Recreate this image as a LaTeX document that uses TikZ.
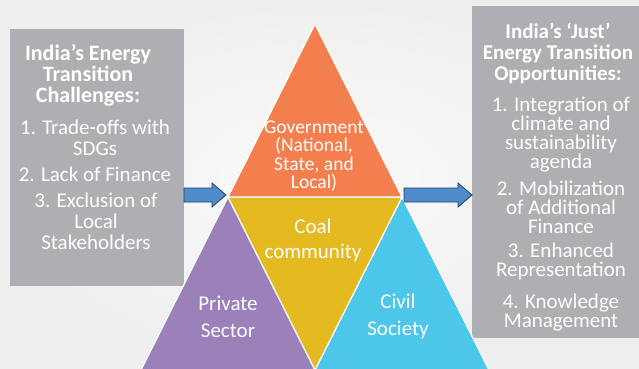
\documentclass[tikz,border=0pt]{standalone}
\usepackage{fontspec}
\setmainfont{Carlito}
\definecolor{bgA}{HTML}{EFEFEF}
\definecolor{bgB}{HTML}{FAFAFA}
\definecolor{boxgray}{HTML}{AEAFB3}
\definecolor{orangeT}{HTML}{F47F4E}
\definecolor{yellowT}{HTML}{E5B920}
\definecolor{purpleT}{HTML}{9B80B9}
\definecolor{cyanT}{HTML}{4CC7EA}
\definecolor{arrowfill}{HTML}{4F8CCA}
\definecolor{arrowline}{HTML}{22406A}
\begin{document}
\begin{tikzpicture}[x=1pt,y=1pt,
  graybox/.style={fill=boxgray,draw=none},
  tri/.style={draw=white,line width=1.2pt,line join=miter},
  bigarrow/.style={fill=arrowfill,draw=arrowline,line width=0.8pt,line join=miter},
  boxtitle/.style={text=white,align=center,font=\fontsize{22}{20.8}\selectfont\bfseries,inner sep=0pt},
  boxitem/.style={text=white,align=center,font=\fontsize{21}{21}\selectfont,inner sep=0pt},
  rtitle/.style={text=white,align=center,anchor=base,font=\fontsize{21}{21}\selectfont\bfseries,inner sep=0pt},
  ritem/.style={text=white,align=center,anchor=base,font=\fontsize{21}{19}\selectfont,inner sep=0pt},
  trilabel/.style={text=white,align=center,inner sep=0pt}]
\useasboundingbox (0,0) rectangle (639,368);
\shade[inner color=bgB,outer color=bgA] (0,0) rectangle (639,368);
\begin{scope}
\clip (0,0) rectangle (639,368);
% boxes
\path[graybox] (10,82) rectangle (184,339);
\path[graybox] (472,30) rectangle (641,362);
% triangles
\coordinate (apex) at (315,344);
\coordinate (bl) at (228,171);
\coordinate (br) at (402,171);
\coordinate (bm) at (315,-2);
\coordinate (bll) at (141,-2);
\coordinate (brr) at (489,-2);
\path[tri,fill=purpleT] (bl) -- (bll) -- (bm) -- cycle;
\path[tri,fill=cyanT] (br) -- (bm) -- (brr) -- cycle;
\path[tri,fill=yellowT] (bl) -- (br) -- (bm) -- cycle;
\path[tri,fill=orangeT] (apex) -- (bl) -- (br) -- cycle;
% arrows
\path[bigarrow] (184,166) -- (212,166) -- (212,161) -- (226,173) -- (212,185) -- (212,180) -- (184,180) -- cycle;
\path[bigarrow] (404,166) -- (458,166) -- (458,161) -- (472,173) -- (458,185) -- (458,180) -- (404,180) -- cycle;
% left box texts
\node[boxtitle] (lt) at (88,292.5) {India’s Energy\\Transition\\Challenges:};
\node[boxitem] (l1) at (95,230) {1. Trade-offs with\\SDGs};
\node[boxitem] (l2) at (95,194) {2. Lack of Finance};
\node[boxitem] (l3) at (96,147) {3. Exclusion of\\Local\\Stakeholders};
% right box texts
\node[rtitle] (rt) at (558,288) {India’s ‘Just’\\Energy Transition\\Opportunities:};
\node[ritem] (r1) at (561,200) {1. Integration of\\climate and\\sustainability\\agenda};
\node[ritem] (r2) at (561,135) {2. Mobilization\\of Additional\\Finance};
\node[ritem] (r3) at (561,92) {3. Enhanced\\Representation};
\node[ritem] (r4) at (561,41) {4. Knowledge\\Management};
% triangle labels
\node[trilabel,font=\fontsize{19.5}{18.5}\selectfont] (gov) at (314,212) {Government\\(National,\\State, and\\Local)};
\node[trilabel,font=\fontsize{21}{25}\selectfont] (coal) at (313,127.5) {Coal\\community};
\node[trilabel,font=\fontsize{21}{27}\selectfont] (priv) at (228,51.5) {Private\\Sector};
\node[trilabel,font=\fontsize{21}{27}\selectfont] (civ) at (398,51.5) {Civil\\Society};
\end{scope}
\end{tikzpicture}
\end{document}
